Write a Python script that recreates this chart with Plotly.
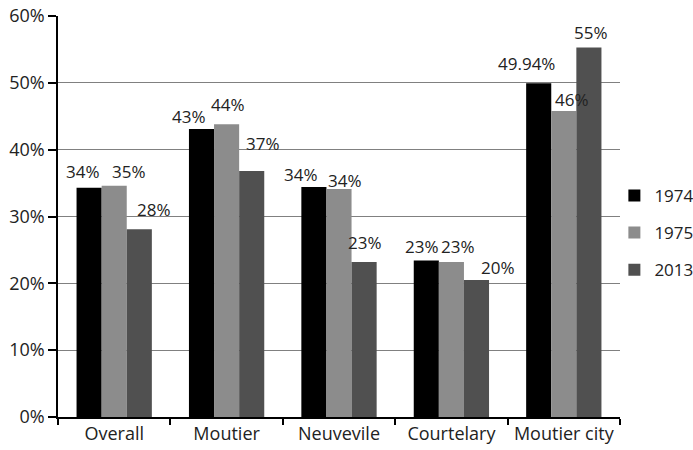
import plotly.graph_objects as go

categories = ["Overall", "Moutier", "Neuvevile", "Courtelary", "Moutier city"]
series_names = ["1974", "1975", "2013"]
values_1974 = [34.3, 43.1, 34.4, 23.4, 49.94]
values_1975 = [34.6, 43.8, 34.1, 23.2, 45.8]
values_2013 = [28.1, 36.8, 23.2, 20.5, 55.3]
labels_1974 = ["34%", "43%", "34%", "23%", "49.94%"]
labels_1975 = ["35%", "44%", "34%", "23%", "46%"]
labels_2013 = ["28%", "37%", "23%", "20%", "55%"]
colors = ["#000000", "#8c8c8c", "#505050"]

# label placement offsets (style, in pixels): horizontal nudge and rise above bar top
label_dx = [[-6, -12, -13, -4, -12], [15, 1, 6, 7, 8], [15, 11, 1, 21, 2]]
label_rise = [[16, 12, 13, 14, 20], [14, 20, 9, 15, 11], [20, 28, 19, 12, 15]]

FONT = "Open Sans"
W, H = 693, 450
ML, MR, MT, MB = 58, 73, 16, 33
BARGAP = 0.33
plot_w = W - ML - MR
cat_px = plot_w / len(categories)
bar_px = (1 - BARGAP) * cat_px / len(series_names)

fig = go.Figure()
all_vals = [values_1974, values_1975, values_2013]
all_labs = [labels_1974, labels_1975, labels_2013]
for k, (name, vals, col) in enumerate(zip(series_names, all_vals, colors)):
    fig.add_trace(go.Bar(
        x=categories, y=vals, name=name, marker_color=col,
        marker_line_width=0, legendgroup=name,
    ))

annotations = []
for k in range(len(series_names)):
    offset = (k - (len(series_names) - 1) / 2) * bar_px
    for i, cat in enumerate(categories):
        annotations.append(dict(
            x=cat, y=all_vals[k][i], xref="x", yref="y",
            text=all_labs[k][i], showarrow=False,
            xshift=offset + label_dx[k][i], yshift=label_rise[k][i],
            yanchor="middle", xanchor="center",
            font=dict(size=17, family=FONT, color="#222222"),
        ))

fig.update_layout(
    width=W, height=H,
    barmode="group", bargap=BARGAP, bargroupgap=0,
    plot_bgcolor="white", paper_bgcolor="white",
    margin=dict(l=ML, r=MR, t=MT, b=MB, autoexpand=False),
    font=dict(family=FONT, size=18, color="#222222"),
    showlegend=True,
    annotations=annotations,
    legend=dict(x=0.99, xanchor="left", y=0.459, yanchor="middle",
                font=dict(size=17, family=FONT, color="#222222"),
                itemwidth=30, tracegroupgap=12, bgcolor="rgba(0,0,0,0)"),
    xaxis=dict(showline=True, linecolor="black", linewidth=1.5,
               ticks="outside", tickson="boundaries", ticklen=6,
               tickcolor="black", tickwidth=1.5,
               tickfont=dict(size=18)),
    yaxis=dict(range=[0, 60], dtick=10, ticksuffix="%",
               showline=True, linecolor="black", linewidth=1.5,
               ticks="outside", ticklen=8, tickcolor="black", tickwidth=1.5,
               showgrid=True, gridcolor="#808080", gridwidth=1,
               zeroline=False, tickfont=dict(size=18)),
)

fig.write_html("out.html")
